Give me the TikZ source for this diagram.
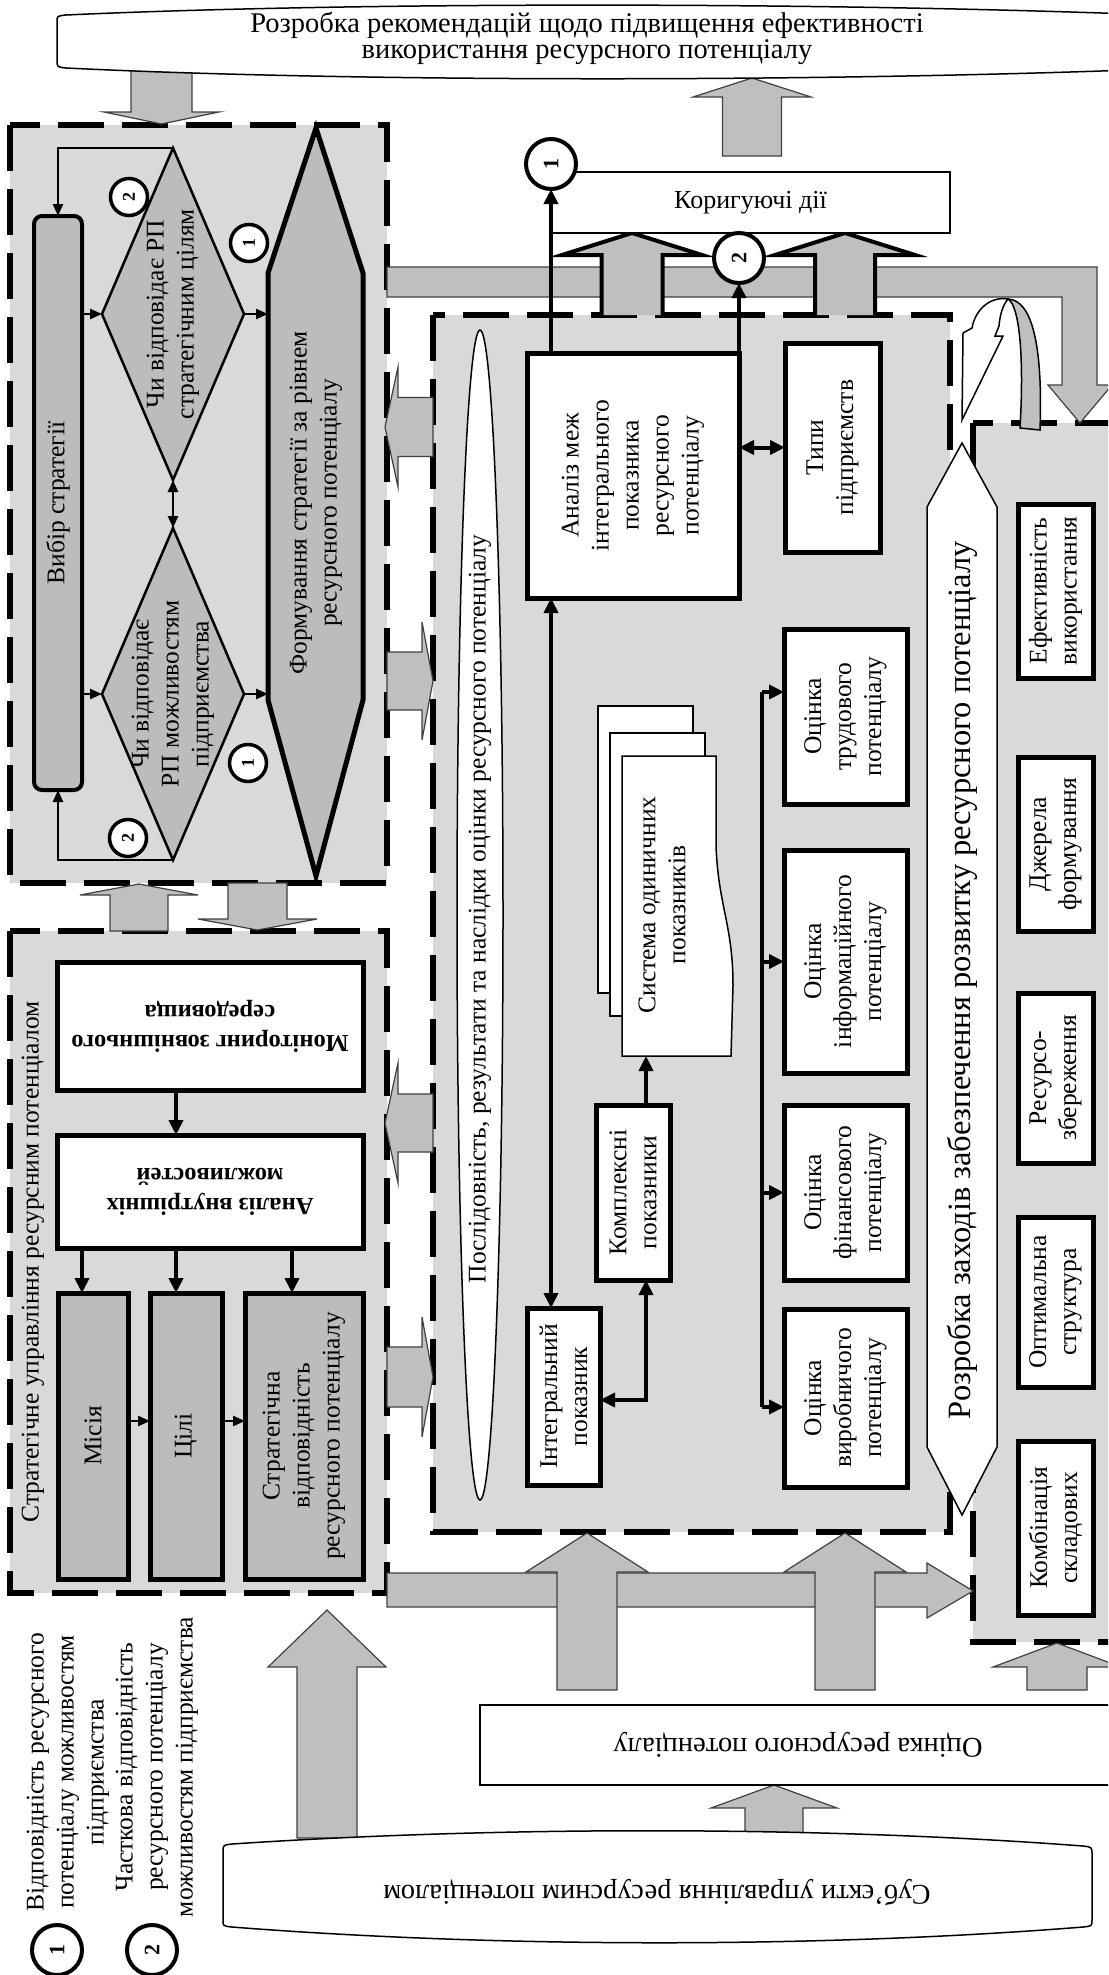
\documentclass[tikz,border=0pt]{standalone}
\usepackage{fontspec}
\setmainfont{Liberation Serif}
\usetikzlibrary{arrows.meta,shapes.geometric,calc}
\definecolor{regfill}{RGB}{217,217,217}
\definecolor{darkfill}{RGB}{188,188,188}
\definecolor{arrfill}{RGB}{191,191,191}
\newcommand{\myfs}[2]{\fontsize{#1}{#2}\selectfont}
\newcommand{\garrowv}[6]{\draw[gar] ({#1-#2},#6) -- ({#1-#2},#5) -- ({#1-#3},#5) -- (#1,#4) -- ({#1+#3},#5) -- ({#1+#2},#5) -- ({#1+#2},#6) -- cycle;}
\newcommand{\garrowh}[6]{\draw[gar] (#6,{#1-#2}) -- (#5,{#1-#2}) -- (#5,{#1-#3}) -- (#4,#1) -- (#5,{#1+#3}) -- (#5,{#1+#2}) -- (#6,{#1+#2}) -- cycle;}
\newcommand{\barrowv}[6]{\fill[arrfill] ({#1-#2},#6) -- ({#1-#2},#5) -- ({#1-#3},#5) -- (#1,#4) -- ({#1+#3},#5) -- ({#1+#2},#5) -- ({#1+#2},#6) -- cycle;
 \draw[line width=4pt] ({#1-#2},#6) -- ({#1-#2},#5) -- ({#1-#3},#5) -- (#1,#4) -- ({#1+#3},#5) -- ({#1+#2},#5) -- ({#1+#2},#6);}
\begin{document}
\begin{tikzpicture}[x=1pt,y=-1pt,
 region/.style={draw=black,line width=5.5pt,dash pattern=on 46pt off 18pt,fill=regfill},
 tbox/.style={draw=black,line width=5pt,fill=white,inner sep=0pt,outer sep=0pt},
 dbox/.style={draw=black,line width=5pt,fill=darkfill,inner sep=0pt,outer sep=0pt},
 nbox/.style={draw=black,line width=1.5pt,fill=white,inner sep=0pt,outer sep=0pt},
 txt/.style={font=\myfs{25.5}{30},align=center,inner sep=0pt},
 vtxt/.style={txt,rotate=90},
 conn/.style={line width=4pt,-{Triangle[length=15pt,width=14pt]}},
 bconn/.style={line width=4pt,{Triangle[length=15pt,width=14pt]}-{Triangle[length=15pt,width=14pt]}},
 sconn/.style={line width=2.5pt,-{Triangle[length=12pt,width=10pt]}},
 sbconn/.style={line width=2.5pt,{Triangle[length=12pt,width=10pt]}-{Triangle[length=12pt,width=10pt]}},
 gar/.style={fill=arrfill,draw=black!75,line width=1.2pt},
 numb/.style={circle,draw=black,line width=4pt,fill=white,inner sep=0pt,outer sep=0pt,minimum size=50pt,font=\bfseries\myfs{22}{22}},
 nums/.style={numb,line width=3.5pt,minimum size=37pt,font=\bfseries\myfs{18}{18}},
 dia/.style={diamond,draw=black,line width=2.5pt,fill=darkfill,minimum width=142pt,minimum height=332pt,inner sep=0pt,outer sep=0pt}
]
\useasboundingbox (0,0) rectangle (1108,1975);
\clip (0,0) rectangle (1108,1975);

% ---------- dashed regions
\draw[region] (10,125) rectangle (387,883);
\draw[region] (10,931) rectangle (387,1593);
\draw[region] (433,315) rectangle (950,1532);
\draw[region] (973,423) rectangle (1140,1642);

% ---------- grey block arrows
\garrowv{161.5}{30.5}{57.5}{124}{112}{70}
\garrowv{752}{29.5}{59}{78}{97}{156}
\garrowv{139}{29}{59}{884}{895}{931}
\garrowv{257.5}{29.5}{59.5}{930}{919}{883}
\draw[gar] (387,267) -- (1097,267) -- (1097,385) -- (1112,385) -- (1080,423) -- (1048,385) -- (1062,385) -- (1062,297) -- (387,297) -- cycle;
\draw[gar] (387,1573) -- (927,1573) -- (927,1563) -- (973,1591) -- (927,1618) -- (927,1607) -- (387,1607) -- cycle;
\garrowh{427}{29.5}{60}{385}{398}{433}
\garrowh{681}{29}{59}{433}{422}{387}
\garrowh{1123}{29}{60}{385}{398}{433}
\garrowh{1377}{30}{60}{433}{422}{387}
\garrowv{587}{30}{61}{1533}{1572}{1690}
\garrowv{845}{30}{61}{1533}{1572}{1690}
\garrowv{1057}{30}{64}{1643}{1667}{1690}
\garrowv{327}{30}{59}{1610}{1667}{1838}
\garrowv{774}{29}{63}{1785}{1808}{1836}
\barrowv{632}{30.5}{70}{233}{255}{315}
\barrowv{845}{30}{70}{233}{255}{315}

% ---------- top ellipse
\draw[line width=1.5pt,fill=white] (57,22) .. controls (57,16) .. (66,15) .. controls (350,2) and (800,2) .. (1130,14) -- (1130,70) .. controls (800,82) and (350,82) .. (66,68) .. controls (57,67) .. (57,60) -- cycle;
\node[txt,font=\myfs{28.5}{26}] (ttop) at (587,38) {Розробка рекомендацій щодо підвищення ефективності\\використання ресурсного потенціалу};

% ---------- bottom shapes
\node[nbox,minimum width=650pt,minimum height=80pt] (ocres) at (805,1745) {};
\node[txt,rotate=180,font=\myfs{28.5}{30}] (tocres) at (798,1745) {Оцінка ресурсного потенціалу};
\draw[line width=1.5pt,fill=white] (223,1852) .. controls (223,1845) .. (232,1844) .. controls (500,1826) and (820,1826) .. (1083,1846) .. controls (1092,1847) .. (1092,1855) -- (1092,1920) .. controls (1092,1926) .. (1083,1927) .. controls (820,1948) and (500,1948) .. (232,1927) .. controls (223,1926) .. (223,1920) -- cycle;
\node[txt,rotate=180,font=\myfs{28.5}{30}] (tsub) at (657,1893) {Суб’єкти управління ресурсним потенціалом};

% ---------- top-left block
\node[dbox,line width=4pt,rounded corners=8pt,minimum width=48pt,minimum height=574pt] (vybir) at (58,503) {};
\node[vtxt] (tvybir) at (vybir) {Вибір стратегії};
\node[dia] (du) at (173,314) {};
\node[dia] (dl) at (173,694) {};
\node[vtxt] (tdu) at (du) {Чи відповідає РП\\стратегічним цілям};
\node[vtxt] (tdl) at (dl) {Чи відповідає\\РП можливостям\\підприємства};
\draw[line width=5pt,fill=darkfill] (268,273) -- (316,128) -- (363,273) -- (363,700) -- (316,876) -- (268,700) -- cycle;
\coordinate (hexW) at (268,503);
\node[vtxt] (thex) at (316,503) {Формування стратегії за рівнем\\ресурсного потенціалу};
\draw[sconn] (du.north) -| (vybir.north);
\draw[sconn] (dl.south) -| (vybir.south);
\draw[sconn] (vybir.east |- du.west) -- (du.west);
\draw[sconn] (vybir.east |- dl.west) -- (dl.west);
\draw[sconn] (du.east) -- (du.east -| hexW);
\draw[sconn] (dl.east) -- (dl.east -| hexW);
\draw[sbconn] (du.south) -- (dl.north);
\node[nums] (n2a) at (129,197) {\rotatebox{90}{2}};
\node[nums] (n1a) at (249,243) {\rotatebox{90}{1}};
\node[nums] (n1b) at (248,763) {\rotatebox{90}{1}};
\node[nums] (n2b) at (128,838) {\rotatebox{90}{2}};

% ---------- lower-left block
\node[vtxt] (tslr) at (33,1262) {Стратегічне управління ресурсним потенціалом};
\node[tbox,minimum width=306pt,minimum height=128pt] (monit) at (210,1026) {};
\node[txt,rotate=180,font=\bfseries\myfs{24.5}{30}] (tmonit) at (monit) {Моніторинг зовнішнього\\середовища};
\node[tbox,minimum width=306pt,minimum height=113pt] (anv) at (210,1191.5) {};
\node[txt,rotate=180,font=\bfseries\myfs{24.5}{30}] (tanv) at (anv) {Аналіз внутрішніх\\можливостей};
\node[dbox,minimum width=70pt,minimum height=286pt] (misia) at (93,1436) {};
\node[dbox,minimum width=72pt,minimum height=286pt] (cili) at (186,1436) {};
\node[dbox,minimum width=118pt,minimum height=286pt] (svid) at (304,1436) {};
\node[vtxt] (tmisia) at (misia) {Місія};
\node[vtxt] (tcili) at (cili) {Цілі};
\node[vtxt] (tsvid) at (svid) {Стратегічна\\відповідність\\ресурсного потенціалу};
\coordinate (mo1) at ([xshift=-34pt]monit.south);
\draw[conn] (mo1) -- (mo1 |- anv.north);
\coordinate (ma1) at ([xshift=-11pt]misia.north);
\coordinate (ma2) at ([xshift=-10pt]cili.north);
\coordinate (ma3) at ([xshift=-12pt]svid.north);
\draw[conn] (ma1 |- anv.south) -- (ma1);
\draw[conn] (ma2 |- anv.south) -- (ma2);
\draw[conn] (ma3 |- anv.south) -- (ma3);
\draw[sconn] ([yshift=15pt]misia.east) -- ([yshift=15pt]cili.west);
\draw[sconn] ([yshift=15pt]cili.east) -- ([yshift=15pt]svid.west);

% ---------- middle block
\node[ellipse,draw=black,line width=1.5pt,fill=white,minimum width=46pt,minimum height=1170pt,inner sep=0pt] (ell) at (480,915) {};
\node[vtxt] (tell) at (480,909) {Послідовність, результати та наслідки оцінки ресурсного потенціалу};
\node[tbox,minimum width=212pt,minimum height=245pt] (analiz) at (633,475.5) {};
\node[vtxt] (tanaliz) at (analiz) {Аналіз меж\\інтегрального\\показника\\ресурсного\\потенціалу};
\node[tbox,minimum width=95pt,minimum height=209pt] (tipy) at (832.5,447.5) {};
\node[vtxt] (ttipy) at (tipy) {Типи\\підприємств};
\node[nbox,minimum width=399pt,minimum height=61pt] (koryg) at (750.5,202.5) {};
\node[txt,font=\myfs{26}{30}] (tkoryg) at (koryg) {Коригуючі дії};
\node[numb] (n1top) at (551,164) {\rotatebox{90}{1}};
\node[numb] (n2top) at (739,258) {\rotatebox{90}{2}};
\node[tbox,minimum width=73pt,minimum height=177pt] (integ) at (563.5,1396.5) {};
\node[vtxt] (tinteg) at (integ) {Інтегральний\\показник};
\node[tbox,minimum width=74pt,minimum height=175pt] (kompl) at (633,1192.5) {};
\node[vtxt] (tkompl) at (kompl) {Комплексні\\показники};
\draw[line width=1.5pt,fill=white] (598,706) rectangle (693,993);
\draw[line width=1.5pt,fill=white] (610,733) rectangle (705,1016);
\draw[line width=1.5pt,fill=white] (622,756) -- (716,756) -- (716,845) .. controls (718,905) and (733,925) .. (733,985) -- (731,1056) -- (622,1056) -- cycle;
\coordinate (sysb) at (646,1056);
\node[vtxt] (tsys) at (662,905) {Система одиничних\\показників};
\coordinate (kj) at (646,1400);
\draw[conn] ([xshift=24pt]analiz.north west) -- (n1top.south);
\draw[conn] (analiz.north east) -- (n2top.south);
\draw[bconn] ([xshift=24pt]analiz.south west) -- ([xshift=24pt]integ.north west);
\draw[bconn] (analiz.east |- tipy.west) -- (tipy.west);
\draw[conn] (kj |- kompl.north) -- (sysb);
\draw[bconn] (integ.east |- kj) -- (kj) -- (kj |- kompl.south);
\node[tbox,minimum width=123pt,minimum height=175pt] (o1) at (845.5,716.5) {};
\node[tbox,minimum width=123pt,minimum height=223pt] (o2) at (845.5,961.5) {};
\node[tbox,minimum width=123pt,minimum height=175pt] (o3) at (845.5,1192.5) {};
\node[tbox,minimum width=123pt,minimum height=178pt] (o4) at (845.5,1398) {};
\node[vtxt] (to1) at (o1) {Оцінка\\трудового\\потенціалу};
\node[vtxt] (to2) at (o2) {Оцінка\\інформаційного\\потенціалу};
\node[vtxt] (to3) at (o3) {Оцінка\\фінансового\\потенціалу};
\node[vtxt] (to4) at (o4) {Оцінка\\виробничого\\потенціалу};
\coordinate (bust) at (762,692);
\coordinate (busb) at (762,1407);
\draw[line width=4pt] (bust) -- (busb);
\draw[conn] (bust) -- (bust -| o1.west);
\draw[conn] (bust |- o2.west) -- (o2.west);
\draw[conn] (bust |- o3.west) -- (o3.west);
\draw[conn] (busb) -- (busb -| o4.west);

% ---------- right block
\draw[line width=1.5pt,fill=white] (962,443) -- (997,507) -- (997,1447) -- (962,1515) -- (927,1447) -- (927,507) -- cycle;
\node[txt,rotate=90,font=\myfs{32.5}{36}] (tdev) at (962,980) {Розробка заходів забезпечення розвитку ресурсного потенціалу};
\draw[line width=1.5pt,fill=white] (1008,299) .. controls (990,296) and (975,310) .. (972,328) -- (963,333) -- (962,420) -- (1003,336) -- (995,336) -- (999,326) .. controls (1000,314) and (1003,305) .. (1008,299) -- cycle;
\draw[line width=1.5pt,fill=arrfill] (1020,428) .. controls (1024,360) and (1020,306) .. (1008,299) .. controls (1032,300) and (1043,345) .. (1040,430) -- cycle;
\node[tbox,minimum width=75pt,minimum height=174pt] (r1) at (1055.5,591) {};
\node[tbox,minimum width=75pt,minimum height=174pt] (r2) at (1055.5,844) {};
\node[tbox,minimum width=75pt,minimum height=170pt] (r3) at (1055.5,1078) {};
\node[tbox,minimum width=75pt,minimum height=170pt] (r4) at (1055.5,1302) {};
\node[tbox,minimum width=75pt,minimum height=174pt] (r5) at (1055.5,1528) {};
\node[vtxt] (tr1) at (r1) {Ефективність\\використання};
\node[vtxt] (tr2) at (r2) {Джерела\\формування};
\node[vtxt] (tr3) at (r3) {Ресурсо-\\збереження};
\node[vtxt] (tr4) at (r4) {Оптимальна\\структура};
\node[vtxt] (tr5) at (r5) {Комбінація\\складових};

% ---------- legend
\node[numb] (l1) at (57,1950) {\rotatebox{90}{1}};
\node[numb] (l2) at (152,1950) {\rotatebox{90}{2}};
\node[vtxt] (tl1) at (68,1772) {Відповідність ресурсного\\потенціалу можливостям\\підприємства};
\node[vtxt] (tl2) at (157,1767) {Часткова відповідність\\ресурсного потенціалу\\можливостям підприємства};
\end{tikzpicture}
\end{document}
